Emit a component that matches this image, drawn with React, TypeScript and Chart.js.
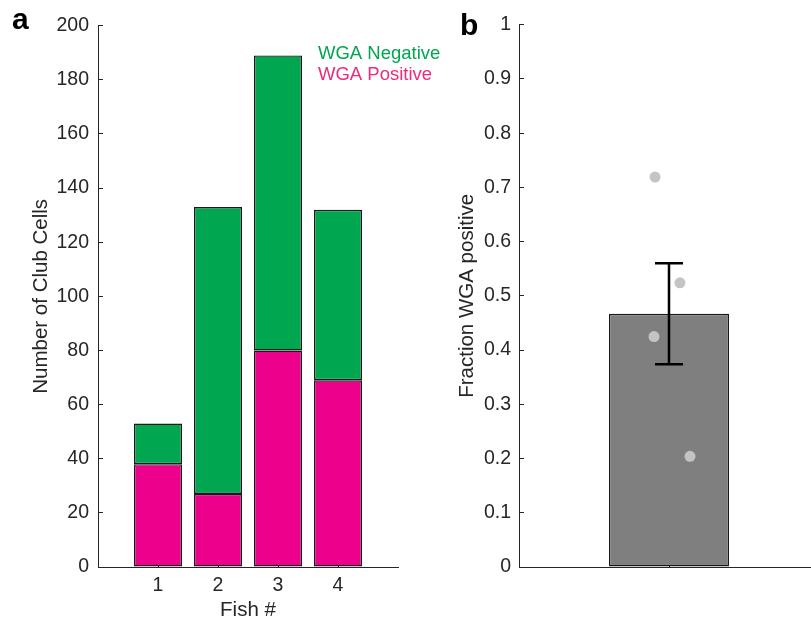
import React, { useEffect, useRef } from "react";
import { Chart, registerables } from "chart.js";

Chart.register(...registerables);

// ---- Panel a data ----
const fishIds = [1, 2, 3, 4];
const wgaPositive = [38, 27, 80, 69];
const wgaNegative = [15, 106, 109, 63];
const seriesLabels = ["WGA Positive", "WGA Negative"];
const seriesColors = ["#EC008C", "#00A650"];
const legendTextColors = ["#EE2A7B", "#00A650"];

// ---- Panel b data ----
const fractionMean = [0.467];
const fractionErrLow = [0.374];
const fractionErrHigh = [0.56];
const fishFractions = [0.719, 0.524, 0.425, 0.204];
const fishJitterX = [0.907, 1.073, 0.9, 1.14];

const FONT = "'Liberation Sans', Arial, Helvetica, sans-serif";
const AXIS = "#262626";
const TRANSPARENT = "rgba(0,0,0,0)";

const panelLabel = (id: string, text: string, x: number, y: number) => ({
  id,
  afterDraw(chart: any) {
    const ctx = chart.ctx;
    ctx.save();
    ctx.font = `bold 30px ${FONT}`;
    ctx.fillStyle = "#000";
    ctx.textAlign = "left";
    ctx.textBaseline = "alphabetic";
    ctx.fillText(text, x, y);
    ctx.restore();
  },
});

const legendTextPlugin = {
  id: "legendText",
  afterDraw(chart: any) {
    const ctx = chart.ctx;
    const area = chart.chartArea;
    ctx.save();
    ctx.font = `18.5px ${FONT}`;
    ctx.textAlign = "left";
    ctx.textBaseline = "alphabetic";
    const n = chart.data.datasets.length;
    for (let k = 0; k < n; k++) {
      const i = n - 1 - k;
      ctx.fillStyle = legendTextColors[i];
      ctx.fillText(chart.data.datasets[i].label, area.left + 220, area.top + 33 + k * 21);
    }
    ctx.restore();
  },
};

const errorBarPlugin = {
  id: "errorBars",
  afterDatasetsDraw(chart: any) {
    const ctx = chart.ctx;
    const meta = chart.getDatasetMeta(0);
    const ys = chart.scales.y;
    ctx.save();
    ctx.strokeStyle = "#000";
    ctx.lineWidth = 2.5;
    meta.data.forEach((el: any, i: number) => {
      const x = el.x;
      const yl = ys.getPixelForValue(fractionErrLow[i]);
      const yh = ys.getPixelForValue(fractionErrHigh[i]);
      ctx.beginPath();
      ctx.moveTo(x, yl);
      ctx.lineTo(x, yh);
      ctx.moveTo(x - 14, yl);
      ctx.lineTo(x + 14, yl);
      ctx.moveTo(x - 14, yh);
      ctx.lineTo(x + 14, yh);
      ctx.stroke();
    });
    ctx.restore();
  },
};

const fmt = (v: any) => String(parseFloat(Number(v).toFixed(2)));

export default function App() {
  const refA = useRef<HTMLCanvasElement>(null);
  const refB = useRef<HTMLCanvasElement>(null);

  useEffect(() => {
    const tickFont = { family: FONT, size: 19.5 };
    const titleFont = { family: FONT, size: 20.5 };

    const chartA = new Chart(refA.current as HTMLCanvasElement, {
      type: "bar",
      data: {
        datasets: [wgaPositive, wgaNegative].map((arr, s) => ({
          label: seriesLabels[s],
          data: fishIds.map((x, i) => ({ x, y: arr[i] })),
          backgroundColor: seriesColors[s],
          borderColor: "#1a1a1a",
          borderWidth: 1.4,
          borderSkipped: false,
          categoryPercentage: 1,
          barPercentage: 0.8,
        })),
      } as any,
      options: {
        responsive: false,
        animation: false,
        layout: { padding: { left: 0, right: 413, top: 19, bottom: 0 } },
        plugins: { legend: { display: false }, tooltip: { enabled: false } },
        scales: {
          x: {
            type: "linear",
            stacked: true,
            offset: false,
            min: 0,
            max: 5,
            z: 1,
            ticks: {
              stepSize: 1,
              autoSkip: false,
              maxRotation: 0,
              padding: 12,
              color: AXIS,
              font: tickFont,
              callback: (v: any) => (fishIds.includes(Number(v)) ? String(v) : ""),
            },
            grid: {
              offset: false,
              drawOnChartArea: false,
              drawTicks: true,
              tickLength: -5,
              lineWidth: 1,
              color: (c: any) => (c.tick && fishIds.includes(c.tick.value) ? AXIS : TRANSPARENT),
            },
            border: { display: true, color: AXIS, width: 1 },
            title: { display: true, text: "Fish #", color: AXIS, font: titleFont, padding: { top: 0, bottom: -2 } },
            afterFit: (s: any) => {
              s.height = 54;
            },
          },
          y: {
            stacked: true,
            min: 0,
            max: 200,
            z: 1,
            ticks: { stepSize: 20, padding: 14, color: AXIS, font: tickFont },
            grid: { drawOnChartArea: false, drawTicks: true, tickLength: -5, lineWidth: 1, color: AXIS },
            border: { display: true, color: AXIS, width: 1 },
            title: {
              display: true,
              text: "Number of Club Cells",
              color: AXIS,
              font: titleFont,
              padding: { top: 29, bottom: 0 },
            },
            afterFit: (s: any) => {
              s.width = 98;
            },
          },
        },
      } as any,
      plugins: [legendTextPlugin, panelLabel("labelA", "a", 12, 29)],
    });

    const chartB = new Chart(refB.current as HTMLCanvasElement, {
      type: "bar",
      data: {
        datasets: [
          {
            type: "bar",
            label: "Fraction WGA positive",
            data: fractionMean.map((y) => ({ x: 1, y })),
            backgroundColor: "#7F7F7F",
            borderColor: "#1a1a1a",
            borderWidth: 1.4,
            borderSkipped: false,
            categoryPercentage: 1,
            barPercentage: 0.8,
            order: 2,
          },
          {
            type: "scatter",
            label: "Fish",
            data: fishFractions.map((y, i) => ({ x: fishJitterX[i], y })),
            backgroundColor: "#C4C4C4",
            borderWidth: 0,
            pointRadius: 5.5,
            order: 1,
          },
        ],
      } as any,
      options: {
        responsive: false,
        animation: false,
        layout: { padding: { left: 420, right: 11, top: 19, bottom: 0 } },
        plugins: { legend: { display: false }, tooltip: { enabled: false } },
        scales: {
          x: {
            type: "linear",
            offset: false,
            min: 0,
            max: 2,
            z: 1,
            ticks: { stepSize: 1, autoSkip: false, maxRotation: 0, callback: () => "" },
            grid: {
              offset: false,
              drawOnChartArea: false,
              drawTicks: true,
              tickLength: -6,
              lineWidth: 1,
              color: (c: any) => (c.tick && c.tick.value === 1 ? AXIS : TRANSPARENT),
            },
            border: { display: true, color: AXIS, width: 1 },
            afterFit: (s: any) => {
              s.height = 54;
            },
          },
          y: {
            min: 0,
            max: 1,
            z: 1,
            ticks: { stepSize: 0.1, padding: 13, color: AXIS, font: tickFont, callback: fmt },
            grid: { drawOnChartArea: false, drawTicks: true, tickLength: -5, lineWidth: 1, color: AXIS },
            border: { display: true, color: AXIS, width: 1 },
            title: {
              display: true,
              text: "Fraction WGA positive",
              color: AXIS,
              font: titleFont,
              padding: { top: 35, bottom: 0 },
            },
            afterFit: (s: any) => {
              s.width = 99;
            },
          },
        },
      } as any,
      plugins: [errorBarPlugin, panelLabel("labelB", "b", 460, 35)],
    });

    return () => {
      chartA.destroy();
      chartB.destroy();
    };
  }, []);

  return (
    <div
      style={{
        position: "fixed",
        left: 0,
        top: 0,
        width: 811,
        height: 621,
        overflow: "hidden",
        background: "#fff",
      }}
    >
      <canvas
        ref={refA}
        width={811}
        height={621}
        style={{ position: "absolute", left: 0, top: 0, width: 811, height: 621 }}
      />
      <canvas
        ref={refB}
        width={830}
        height={621}
        style={{ position: "absolute", left: 0, top: 0, width: 830, height: 621 }}
      />
    </div>
  );
}
